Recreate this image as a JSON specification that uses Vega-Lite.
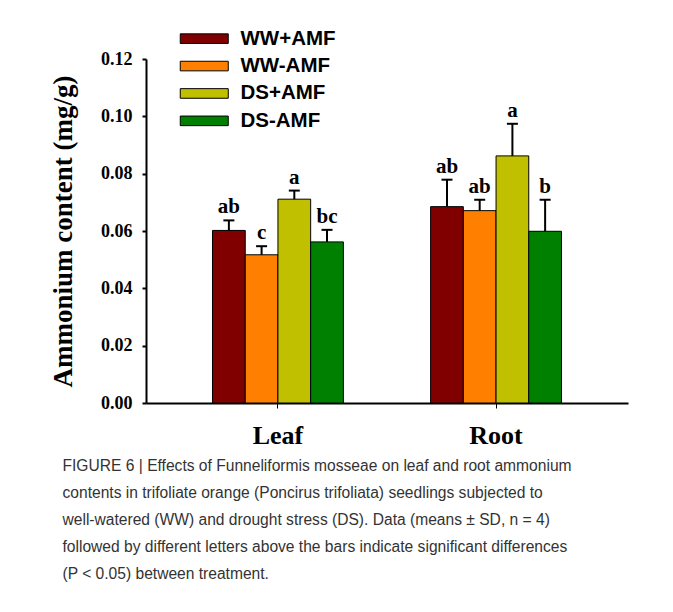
{
  "$schema": "https://vega.github.io/schema/vega-lite/v6.json",
  "width": 482,
  "height": 344,
  "autosize": {"type": "none"},
  "padding": {"left": 146, "top": 59, "right": 45, "bottom": 209},
  "background": "white",
  "config": {"view": {"stroke": null}, "font": "Liberation Serif"},
  "title": {
    "text": [
      "FIGURE 6 | Effects of Funneliformis mosseae on leaf and root ammonium",
      "contents in trifoliate orange (Poncirus trifoliata) seedlings subjected to",
      "well-watered (WW) and drought stress (DS). Data (means ± SD, n = 4)",
      "followed by different letters above the bars indicate significant differences",
      "(P < 0.05) between treatment."
    ],
    "orient": "bottom",
    "anchor": "start",
    "frame": "bounds",
    "font": "Liberation Sans",
    "fontSize": 15.6,
    "fontWeight": "normal",
    "color": "#333333",
    "lineHeight": 27,
    "offset": 11,
    "dx": 13
  },
  "data": {
    "values": [
      {"tissue": "Leaf", "treatment": "WW+AMF", "mean": 0.0602, "upper": 0.0637, "letter": "ab"},
      {"tissue": "Leaf", "treatment": "WW-AMF", "mean": 0.0517, "upper": 0.0547, "letter": "c"},
      {"tissue": "Leaf", "treatment": "DS+AMF", "mean": 0.0711, "upper": 0.0741, "letter": "a"},
      {"tissue": "Leaf", "treatment": "DS-AMF", "mean": 0.0562, "upper": 0.0604, "letter": "bc"},
      {"tissue": "Root", "treatment": "WW+AMF", "mean": 0.0685, "upper": 0.0779, "letter": "ab"},
      {"tissue": "Root", "treatment": "WW-AMF", "mean": 0.0671, "upper": 0.0709, "letter": "ab"},
      {"tissue": "Root", "treatment": "DS+AMF", "mean": 0.0862, "upper": 0.0974, "letter": "a"},
      {"tissue": "Root", "treatment": "DS-AMF", "mean": 0.0599, "upper": 0.0709, "letter": "b"}
    ]
  },
  "encoding": {
    "x": {
      "field": "tissue",
      "type": "nominal",
      "sort": ["Leaf", "Root"],
      "scale": {"paddingInner": 0.4, "paddingOuter": 0.305},
      "axis": {
        "title": null,
        "labelAngle": 0,
        "labelFont": "Liberation Serif",
        "labelFontWeight": "bold",
        "labelFontSize": 26,
        "labelColor": "black",
        "labelPadding": 14,
        "tickSize": 5,
        "tickWidth": 1,
        "tickColor": "black",
        "domainColor": "black",
        "domainWidth": 2
      }
    },
    "xOffset": {
      "field": "treatment",
      "type": "nominal",
      "sort": ["WW+AMF", "WW-AMF", "DS+AMF", "DS-AMF"],
      "scale": {"paddingInner": 0, "paddingOuter": 0}
    }
  },
  "layer": [
    {
      "mark": {"type": "bar", "stroke": "black", "strokeWidth": 1},
      "encoding": {
        "y": {
          "field": "mean",
          "type": "quantitative",
          "title": "Ammonium content (mg/g)",
          "scale": {"domain": [0, 0.12], "nice": false},
          "axis": {
            "values": [0, 0.02, 0.04, 0.06, 0.08, 0.1, 0.12],
            "format": ".2f",
            "grid": false,
            "labelFont": "Liberation Serif",
            "labelFontWeight": "bold",
            "labelFontSize": 18,
            "labelColor": "black",
            "labelPadding": 10,
            "tickSize": 4,
            "tickWidth": 2,
            "tickColor": "black",
            "domainColor": "black",
            "domainWidth": 2,
            "titleFont": "Liberation Serif",
            "titleFontWeight": "bold",
            "titleFontSize": 27,
            "titleColor": "black",
            "titlePadding": 23
          }
        },
        "color": {
          "field": "treatment",
          "type": "nominal",
          "sort": ["WW+AMF", "WW-AMF", "DS+AMF", "DS-AMF"],
          "scale": {
            "domain": ["WW+AMF", "WW-AMF", "DS+AMF", "DS-AMF"],
            "range": ["#800000", "#ff8000", "#c0c000", "#008000"]
          },
          "legend": {
            "orient": "none",
            "legendX": 48,
            "legendY": -30.6,
            "title": null,
            "direction": "vertical",
            "rowPadding": 6.4,
            "symbolType": "M-5,-1H5V1H-5Z",
            "symbolSize": 92.16,
            "symbolStrokeColor": "black",
            "symbolStrokeWidth": 1,
            "symbolOpacity": 1,
            "labelFont": "Liberation Sans",
            "labelFontWeight": "bold",
            "labelFontSize": 20.5,
            "labelColor": "black",
            "labelOffset": 26
          }
        }
      }
    },
    {
      "mark": {"type": "rule", "strokeWidth": 2, "color": "black"},
      "encoding": {
        "y": {"field": "mean", "type": "quantitative", "title": "Ammonium content (mg/g)"},
        "y2": {"field": "upper"}
      }
    },
    {
      "mark": {"type": "tick", "orient": "horizontal", "size": 11, "thickness": 2, "color": "black", "opacity": 1},
      "encoding": {
        "y": {"field": "upper", "type": "quantitative", "title": "Ammonium content (mg/g)"}
      }
    },
    {
      "mark": {"type": "text", "font": "Liberation Serif", "fontWeight": "bold", "fontSize": 21, "baseline": "alphabetic", "dy": -7, "color": "black"},
      "encoding": {
        "y": {"field": "upper", "type": "quantitative", "title": "Ammonium content (mg/g)"},
        "text": {"field": "letter"}
      }
    }
  ]
}
